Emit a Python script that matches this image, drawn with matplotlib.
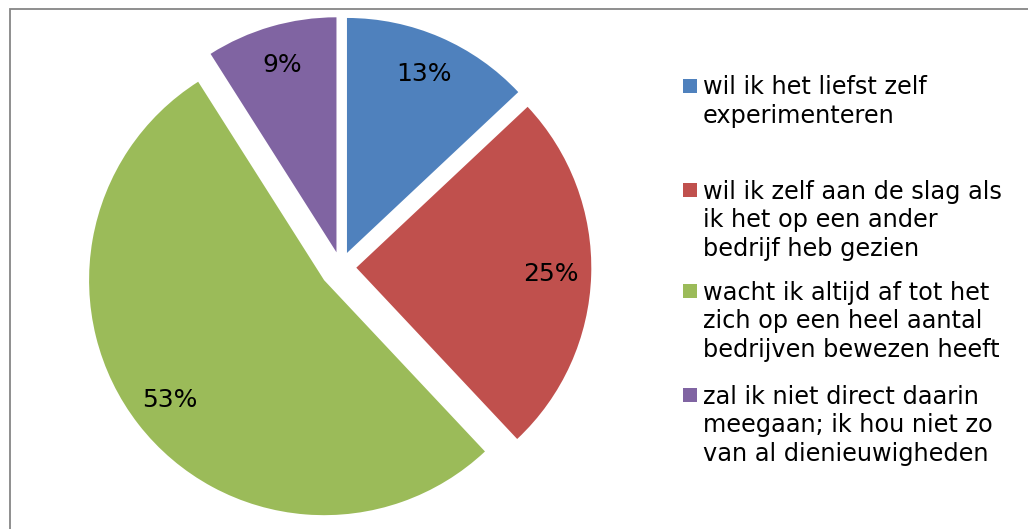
import matplotlib

matplotlib.use("Agg")
import matplotlib.pyplot as plt
from matplotlib.patches import Rectangle

W, H = 1028, 529

# data
answers = [
    "wil ik het liefst zelf\nexperimenteren",
    "wil ik zelf aan de slag als\nik het op een ander\nbedrijf heb gezien",
    "wacht ik altijd af tot het\nzich op een heel aantal\nbedrijven bewezen heeft",
    "zal ik niet direct daarin\nmeegaan; ik hou niet zo\nvan al dienieuwigheden",
]
shares = [13, 25, 53, 9]
colors = ["#4F81BD", "#C0504D", "#9BBB59", "#8064A2"]

# pie geometry in pixels (radius = 1 data unit)
R = 235.0
cx, cy = 340.8, 267.2

plt.rcParams["font.family"] = ["DejaVu Sans"]
fig = plt.figure(figsize=(W / 100, H / 100), dpi=100)
ax = fig.add_axes([0, 0, 1, 1])

ax.pie(
    shares,
    colors=colors,
    startangle=90,
    counterclock=False,
    radius=1.0,
    explode=[0.066, 0.066, 0.09, 0.066],
    autopct=lambda p: f"{p:.0f}%",
    pctdistance=0.83,
    textprops={"fontsize": 18, "color": "black"},
    wedgeprops={"linewidth": 0},
)
ax.set_aspect("equal")
ax.set_xlim(-cx / R, (W - cx) / R)
ax.set_ylim(-(H - cy) / R, cy / R)
ax.axis("off")

# chart area border (cut off at right and bottom)
fig.add_artist(Rectangle((10 / W, -0.05), 1.1, (H - 9) / H + 0.05,
                         transform=fig.transFigure, fill=False,
                         edgecolor="#868686", linewidth=1.3))

# legend drawn by hand so the swatch sits on the first line
baselines = [93, 197, 298, 402]
line_px = 29.5
for lab, col, yb in zip(answers, colors, baselines):
    fig.add_artist(Rectangle((683 / W, 1 - yb / H), 14 / W, 14 / H,
                             transform=fig.transFigure, facecolor=col,
                             edgecolor="none"))
    # baseline alignment uses the last line, so shift down by the extra lines
    y_last = yb + lab.count("\n") * line_px
    fig.text(703 / W, 1 - y_last / H, lab, ha="left", va="baseline",
             fontsize=17.3, linespacing=1.24, color="black")

fig.savefig("out.png", dpi=100)
